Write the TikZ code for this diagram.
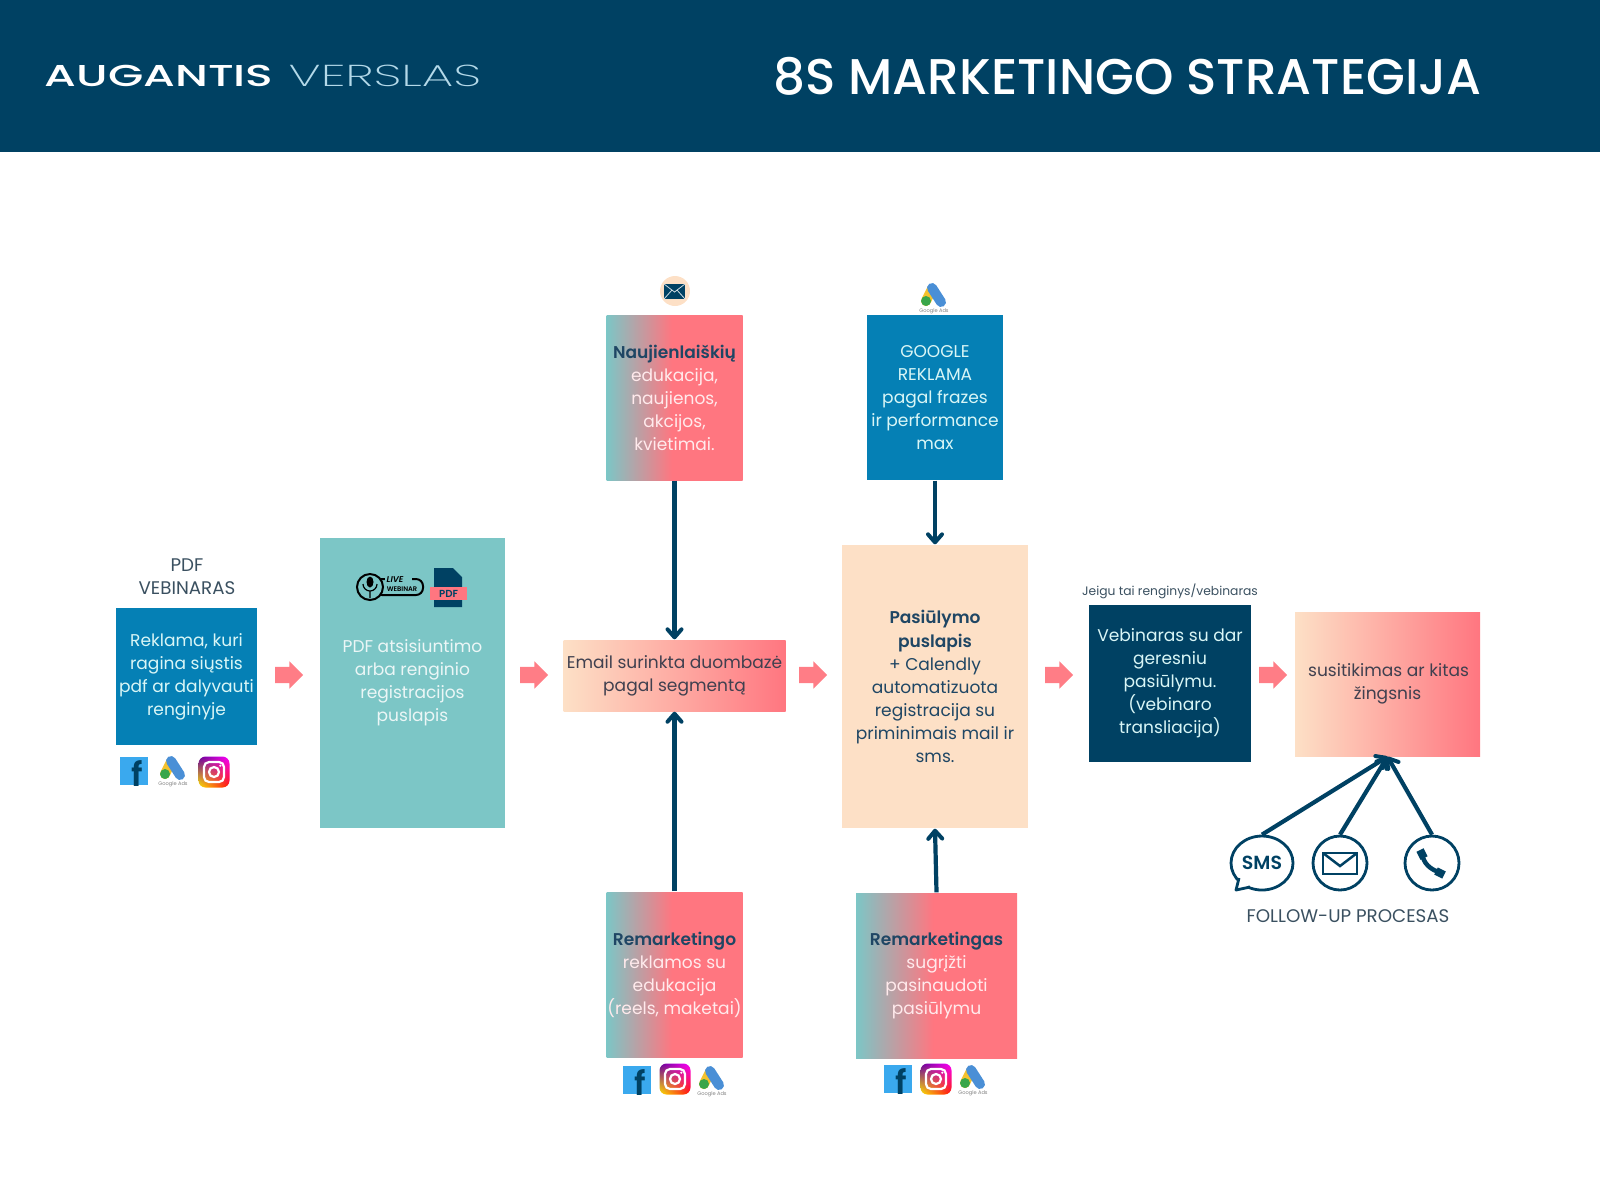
\documentclass[tikz,border=0pt]{standalone}
\usepackage{fontspec}
\setmainfont{Poppins}[BoldFont=Poppins SemiBold]
\newfontfamily\logofont[FakeStretch=1.51]{Poppins Medium}
\newfontfamily\logothin[FakeStretch=1.66]{Poppins ExtraLight}
\newfontfamily\titlefont{Poppins Medium}
\usetikzlibrary{arrows.meta,shapes.geometric,shapes.arrows,shadings}
\definecolor{navyc}{HTML}{004163}
\definecolor{bluec}{HTML}{0580B5}
\definecolor{tealc}{HTML}{7CC6C6}
\definecolor{peachc}{HTML}{FDE0C6}
\definecolor{coralc}{HTML}{FF7680}
\definecolor{paletxt}{HTML}{D9F6F6}
\definecolor{greytxt}{HTML}{3A5060}
\definecolor{softtxt}{HTML}{40404F}
\definecolor{slatec}{HTML}{1F4664}
\definecolor{fbc}{HTML}{3AA9EE}
\definecolor{gblue}{HTML}{4A8FD6}
\definecolor{gyellow}{HTML}{F5C22E}
\definecolor{ggreen}{HTML}{3AA64A}
\pgfdeclarehorizontalshading{tealcoral}{100bp}{color(0bp)=(tealc); color(25bp)=(tealc); color(49bp)=(coralc); color(100bp)=(coralc)}
\pgfdeclarehorizontalshading{peachcoral}{100bp}{color(0bp)=(peachc); color(25bp)=(peachc); color(75bp)=(coralc); color(100bp)=(coralc)}
\tikzset{
    blockbox/.style={rectangle, inner sep=0pt, align=center, font=\fontsize{4.85}{6.56}\selectfont},
    bluebox/.style={blockbox, fill=bluec, text=paletxt},
    tealbox/.style={blockbox, fill=tealc, text=white!85!tealc},
    peachbox/.style={blockbox, fill=peachc, text=slatec},
    navybox/.style={blockbox, fill=navyc, text=paletxt},
    mixbox/.style={blockbox, shading=tealcoral, text=white!85!coralc},
    softbox/.style={blockbox, shading=peachcoral, text=softtxt},
    pinkarrow/.style={single arrow, fill=coralc!95!white, inner sep=0pt, text height=.15cm, text depth=0pt, minimum height=.28cm, minimum width=.26cm, single arrow head extend=.055cm, single arrow tip angle=90},
    linkarrow/.style={draw=navyc, line width=.042cm, -{Straight Barb[round,length=.08cm,width=.14cm,line width=.04cm]}},
    followicon/.style={draw=navyc, line width=.028cm, inner sep=0pt},
    caption/.style={inner sep=0pt, align=center, text=greytxt, font=\fontsize{5.2}{6.54}\selectfont},
    pics/fbicon/.style={code={
        \fill[fbc] (-.14,-.14) rectangle (.14,.14);
        \node[inner sep=0pt, text=navyc, font=\fontsize{9.5}{9.5}\bfseries\selectfont] at (.035,.025) {f};
    }},
    pics/adsicon/.style={code={
        \draw[gyellow, line width=.1cm, line cap=round] (-.02,-.05) -- (-.08,.07);
        \fill[ggreen] (-.08,.07) circle (.05);
        \draw[gblue, line width=.1cm, line cap=round] (-.02,-.06) -- (.07,.08);
        \node[inner sep=0pt, text=gray, font=\fontsize{1.45}{2}\selectfont] at (0,.175) {Google Ads};
    }},
    pics/instaicon/.style={code={
        \shade[rounded corners=.07cm, lower left=yellow!80!orange, lower right=red!85!orange, upper left=violet!80!blue, upper right=magenta] (-.155,-.155) rectangle (.155,.155);
        \draw[white, line width=.022cm, rounded corners=.05cm] (-.1,-.1) rectangle (.1,.1);
        \draw[white, line width=.022cm] (0,0) circle (.05);
        \fill[white] (.063,-.063) circle (.012);
    }}
}
\begin{document}
\begin{tikzpicture}[x=1cm,y=-1cm]
    \useasboundingbox (0,0) rectangle (16,12);
    \fill[navyc] (0,0) rectangle (16,1.52);
    \node[inner sep=0pt, anchor=west, text=white, font=\logofont\fontsize{8.6}{10}\selectfont] (logoa) at (.44,.76) {AUGANTIS};
    \node[inner sep=0pt, anchor=west, text=white!70!bluec, font=\logothin\fontsize{8.6}{10}\selectfont] (logob) at (2.88,.76) {VERSLAS};
    \node[inner sep=0pt, text=white, font=\titlefont\fontsize{14.28}{16}\selectfont] (titlenode) at (11.275,.76) {8S MARKETINGO STRATEGIJA};

    \node[caption] (pdflabel) at (1.87,5.77) {PDF\\VEBINARAS};
    \node[bluebox, minimum width=1.41cm, minimum height=1.37cm] (reklama) at (1.865,6.765) {Reklama, kuri\\ragina siųstis\\pdf ar dalyvauti\\renginyje};
    \node[tealbox, minimum width=1.85cm, minimum height=2.9cm] (atsisiunt) at (4.125,6.83) {PDF atsisiuntimo\\arba renginio\\registracijos\\puslapis};
    \node[softbox, minimum width=2.22cm, minimum height=.71cm] (email) at (6.745,6.755) {Email surinkta duombazė\\pagal segmentą};
    \node[mixbox, minimum width=1.36cm, minimum height=1.65cm] (naujien) at (6.745,3.975) {\textbf{\textcolor{slatec}{Naujienlaiškių}}\\edukacija,\\naujienos,\\akcijos,\\kvietimai.};
    \node[bluebox, minimum width=1.36cm, minimum height=1.65cm] (google) at (9.35,3.975) {GOOGLE\\REKLAMA\\pagal frazes\\ir performance\\max};
    \node[peachbox, minimum width=1.855cm, minimum height=2.83cm] (pasiulymas) at (9.35,6.865) {\textbf{Pasiūlymo}\\\textbf{puslapis}\\+ Calendly\\automatizuota\\registracija su\\priminimais mail ir\\sms.};
    \node[mixbox, minimum width=1.36cm, minimum height=1.65cm] (remarka) at (6.745,9.745) {\textbf{\textcolor{slatec}{Remarketingo}}\\reklamos su\\edukacija\\(reels, maketai)};
    \node[mixbox, minimum width=1.61cm, minimum height=1.65cm] (remarkb) at (9.365,9.755) {\textbf{\textcolor{slatec}{Remarketingas}}\\sugrįžti\\pasinaudoti\\pasiūlymu};
    \node[caption, font=\fontsize{3.5}{5}\selectfont] (jeigu) at (11.7,5.91) {Jeigu tai renginys/vebinaras};
    \node[navybox, minimum width=1.62cm, minimum height=1.57cm] (vebinaras) at (11.7,6.835) {Vebinaras su dar\\geresniu\\pasiūlymu.\\(vebinaro\\transliacija)};
    \node[softbox, minimum width=1.85cm, minimum height=1.44cm] (susitikimas) at (13.875,6.84) {\hspace{.02cm}susitikimas ar kitas\\žingsnis};

    \node[pinkarrow] (stepa) at (2.85,6.75) {};
    \node[pinkarrow] (stepb) at (5.3,6.75) {};
    \node[pinkarrow] (stepc) at (8.09,6.75) {};
    \node[pinkarrow] (stepd) at (10.55,6.75) {};
    \node[pinkarrow] (stepe) at (12.69,6.75) {};

    \draw[linkarrow] (naujien.south) -- (email.north);
    \draw[linkarrow] (remarka.north) -- (email.south);
    \draw[linkarrow] (google.south) -- (pasiulymas.north);
    \draw[linkarrow] (remarkb.north) -- (pasiulymas.south);

    \node[ellipse, followicon, minimum width=.62cm, minimum height=.54cm, text=navyc, font=\fontsize{5.4}{6}\bfseries\selectfont] (smsicon) at (12.62,8.63) {SMS};
    \draw[navyc, line width=.028cm, line join=round, fill=white] (12.39,8.78) -- (12.36,8.9) -- (12.5,8.87);
    \node[circle, followicon, minimum size=.54cm] (mailicon) at (13.4,8.63) {};
    \node[circle, followicon, minimum size=.54cm] (phoneicon) at (14.32,8.63) {};
    \draw[navyc, line width=.025cm] (13.23,8.53) rectangle (13.57,8.74);
    \draw[navyc, line width=.025cm] (13.23,8.53) -- (13.4,8.66) -- (13.57,8.53);
    \draw[navyc, line width=.045cm, line cap=round] (14.22,8.53) .. controls (14.23,8.63) and (14.3,8.7) .. (14.42,8.73);
    \draw[navyc, line width=.08cm] (14.2,8.5) -- (14.24,8.58) (14.36,8.71) -- (14.44,8.75);
    \draw[linkarrow] (smsicon.north) -- (susitikimas.south);
    \draw[linkarrow] (mailicon.north) -- (susitikimas.south);
    \draw[linkarrow] (phoneicon.north) -- (susitikimas.south);
    \node[caption] (followlabel) at (13.48,9.16) {FOLLOW-UP PROCESAS};

    \pic at (1.34,7.71) {fbicon};
    \pic at (1.73,7.67) {adsicon};
    \pic at (2.14,7.72) {instaicon};
    \pic at (6.37,10.8) {fbicon};
    \pic at (6.75,10.79) {instaicon};
    \pic at (7.12,10.77) {adsicon};
    \pic at (8.98,10.79) {fbicon};
    \pic at (9.36,10.79) {instaicon};
    \pic at (9.73,10.76) {adsicon};
    \pic at (9.34,2.94) {adsicon};

    \fill[peachc] (6.75,2.91) circle (.15);
    \fill[navyc] (6.64,2.84) rectangle (6.85,2.99);
    \draw[white!80!navyc, line width=.008cm] (6.64,2.84) -- (6.745,2.92) -- (6.85,2.84) (6.64,2.99) -- (6.72,2.9) (6.85,2.99) -- (6.77,2.9);

    \draw[black, line width=.02cm, rounded corners=.07cm] (3.75,5.79) rectangle (4.23,5.95);
    \draw[black, line width=.02cm, fill=tealc] (3.7,5.87) circle (.13);
    \fill[black] (3.7,5.82) ellipse (.035 and .055);
    \draw[black, line width=.012cm] (3.63,5.84) arc (180:0:.07) (3.7,5.98) -- (3.7,5.91);
    \fill[tealc] (3.85,5.75) rectangle (4.12,5.83);
    \node[inner sep=0pt, text=black, font=\fontsize{2.4}{3}\bfseries\itshape\selectfont] (liveword) at (3.95,5.8) {LIVE};
    \node[inner sep=0pt, text=black, font=\fontsize{1.9}{3}\bfseries\selectfont] (webinarword) at (4.02,5.89) {WEBINAR};
    \fill[navyc] (4.34,5.68) -- (4.53,5.68) -- (4.62,5.77) -- (4.62,6.07) -- (4.34,6.07) -- cycle;
    \fill[coralc] (4.3,5.87) rectangle (4.67,6) node[midway, text=navyc, inner sep=0pt, font=\fontsize{2.9}{3}\bfseries\selectfont] (pdfword) {PDF};
\end{tikzpicture}
\end{document}
